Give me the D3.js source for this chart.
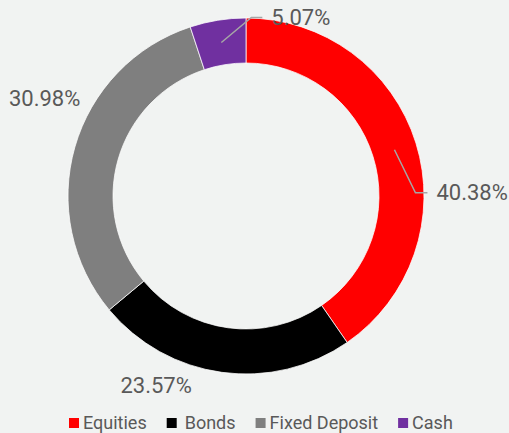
<!DOCTYPE html>
<html><head><meta charset="utf-8">
<script src="https://cdn.jsdelivr.net/npm/d3@7"></script>
<style>html,body{margin:0;padding:0;background:#f1f3f2;}svg{display:block;}</style>
</head><body>
<svg id="chart" width="509" height="433"></svg>
<script>
const categories = ["Equities", "Bonds", "Fixed Deposit", "Cash"];
const values = [40.38, 23.57, 30.98, 5.07];
const labels = ["40.38%", "23.57%", "30.98%", "5.07%"];
const colors = ["#ff0000", "#000000", "#7f7f7f", "#7030a0"];

const W = 509, H = 433;
const cx = 246, cy = 196, rOut = 178, rIn = 133;
const svg = d3.select("#chart");
svg.append("rect").attr("width", W).attr("height", H).attr("fill", "#f1f3f2");

const pie = d3.pie().sort(null).value(d => d.v);
const data = pie(categories.map((c, i) => ({c, v: values[i], l: labels[i], col: colors[i]})));
const arc = d3.arc().innerRadius(rIn).outerRadius(rOut);
const g = svg.append("g").attr("transform", `translate(${cx},${cy})`);
g.selectAll("path.slice").data(data).join("path")
  .attr("class", "slice").attr("d", arc).attr("fill", d => d.data.col)
  .attr("stroke", "#ffffff").attr("stroke-width", 0.75);

const midR = (rIn + rOut) / 2;
function polar(a, r) { return [r * Math.sin(a), -r * Math.cos(a)]; }
// per-slice label placement (Excel "best fit" style)
const labelLayout = [
  {leader: true, elbow: [21, 43], hook: 12},
  {leader: false, off: [-63, -7]},
  {leader: false, off: [-11, -43]},
  {leader: true, elbow: [30, -25], hook: 11}
];
const textFont = "Roboto, 'Open Sans', sans-serif";
const labelSize = 22;
data.forEach((d, i) => {
  const a = (d.startAngle + d.endAngle) / 2;
  const lay = labelLayout[i];
  const p0 = polar(a, midR);
  const pO = polar(a, rOut + 20);
  if (lay.leader) {
    const e = [p0[0] + lay.elbow[0], p0[1] + lay.elbow[1]];
    const h = [e[0] + lay.hook, e[1]];
    g.append("polyline").attr("points", [p0, e, h].map(p => p.join(",")).join(" "))
      .attr("fill", "none").attr("stroke", "#a6a6a6").attr("stroke-width", 1.5);
    g.append("text").attr("x", h[0] + 9).attr("y", h[1]).attr("dy", "0.35em")
      .attr("font-family", textFont).attr("font-size", labelSize).attr("fill", "#595959")
      .attr("text-anchor", "start").text(d.data.l);
  } else {
    const tx = pO[0] + lay.off[0], ty = pO[1] + lay.off[1];
    g.append("text").attr("x", tx).attr("y", ty).attr("dy", "0.35em")
      .attr("font-family", textFont).attr("font-size", labelSize).attr("fill", "#595959")
      .attr("text-anchor", "middle").text(d.data.l);
  }
});

// legend
const leg = svg.append("g").attr("transform", "translate(69,423)");
let x = 0;
categories.forEach((c, i) => {
  const it = leg.append("g").attr("transform", `translate(${x},0)`);
  it.append("rect").attr("x", 0).attr("y", -5).attr("width", 10).attr("height", 10).attr("fill", colors[i]);
  const tOff = i === 1 ? 18 : 14;
  const t = it.append("text").attr("x", tOff).attr("y", 0).attr("dy", "0.35em")
    .attr("font-family", textFont).attr("font-size", 18).attr("fill", "#595959").text(c);
  const w = t.node().getComputedTextLength();
  x += tOff + w + 20;
});
</script>
</body></html>
